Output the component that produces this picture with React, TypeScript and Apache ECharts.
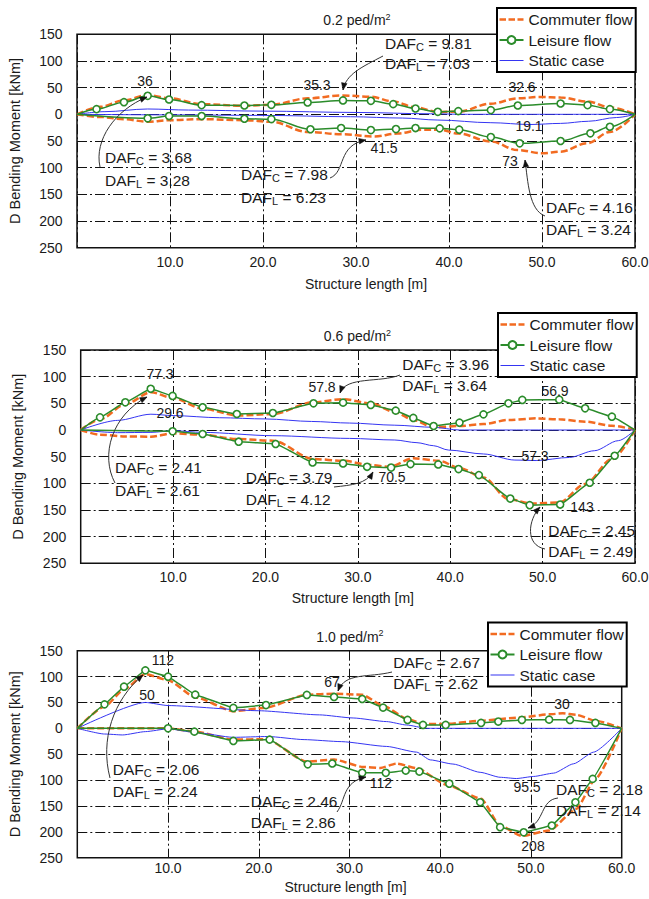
import React, { useEffect, useRef } from "react";
import * as echarts from "echarts";

const FONT = '"Liberation Sans", Arial, Helvetica, sans-serif';
const ORANGE = "#F26B21";
const GREEN = "#2B8C2B";
const BLUE = "#3535F2";
const INK = "#1a1a1a";

const NAMES = ["Commuter flow", "Leisure flow", "Static case"];
const DENSITIES = ["0.2", "0.6", "1.0"];
const X_NAME = "Structure length [m]";
const Y_NAME = "D Bending Moment [kNm]";

// ---------- 0.2 ped/m2 ----------
const p02CommUpX = [0, 2.5, 5, 7.6, 10, 13.4, 18, 20.9, 24.8, 28.5, 31.6, 34, 36.4, 38.8, 41, 44.5, 47.4, 49.8, 52, 54.9, 57.3, 60];
const p02CommUpY = [0, 14, 26, 36, 30, 19, 16, 18, 30, 35.3, 33, 24, 13, 4.5, 5, 20, 30, 32.6, 31.5, 24, 13, 0];
const p02CommLoX = [0, 2.5, 5, 7.6, 10, 13.4, 18, 20.9, 24.8, 28.6, 32, 34.5, 37, 39, 41, 44.5, 47.4, 50, 52, 54.9, 57.3, 60];
const p02CommLoY = [0, -5, -9, -14, -11, -9, -11, -14, -33, -37.5, -41.5, -36, -29, -29, -36, -51, -67, -73, -70, -54, -33, 0];
const p02LeisUpX = [0, 2.1, 5.05, 7.6, 9.9, 13.4, 18.0, 20.9, 24.8, 28.6, 31.6, 34.0, 36.4, 38.8, 41.0, 44.5, 47.4, 52.0, 54.9, 57.3, 60];
const p02LeisUpY = [0, 9.7, 22.8, 34.7, 27.8, 17.2, 16.5, 17.8, 22.2, 26, 25.3, 19.1, 10.9, 4.7, 6, 7.9, 16.5, 20.3, 17.2, 9.7, 0];
const p02LeisLoX = [0, 7.6, 9.9, 13.4, 18.0, 20.9, 25.1, 28.4, 31.6, 34.3, 36.4, 39.0, 41.1, 44.5, 47.6, 52.0, 55.2, 57.3, 60];
const p02LeisLoY = [0, -7.5, -3.2, -3.2, -8.3, -9, -28, -25.7, -29.5, -27.6, -25.7, -26.3, -28.8, -42.6, -54.4, -50, -35.6, -23.3, 0];
const p02StatUpX = [0, 3, 7.6, 12, 20, 30, 38, 42, 60];
const p02StatUpY = [0, 5, 10, 8, 6, 3.5, 1, 0, 0];
const p02StatLoX = [0, 10, 20, 29.4, 35, 38.8, 44.5, 48.7, 52, 55, 58, 60];
const p02StatLoY = [0, -1, -2, -4.5, -7, -10.7, -15.7, -19.1, -17, -13, -6, 0];

// ---------- 0.6 ped/m2 ----------
const p06CommUpX = [0, 2.1, 4.8, 7.6, 10, 13.2, 17, 20.8, 25.2, 28.4, 31.4, 34.1, 36, 38.2, 41, 43.6, 46.3, 49.3, 51.8, 54.6, 57.5, 60];
const p06CommUpY = [0, 20, 48, 70.7, 60, 40, 27, 30, 52, 57.8, 50, 33, 18.8, 5, 7.5, 11, 18.8, 21.8, 20, 15.6, 8, 0];
const p06CommLoX = [0, 2.1, 4.8, 7.6, 10, 13.2, 16.9, 20.8, 25.2, 28.4, 31.4, 33.4, 36, 38.8, 41, 43.6, 46.3, 48.9, 51.8, 54.6, 57.5, 60];
const p06CommLoY = [0, -8.8, -12, -12.5, -6.3, -8.8, -17, -20, -54.5, -57.7, -65.8, -69, -53, -57.7, -71.4, -89, -129.7, -138, -136, -101.5, -54.5, 0];
const p06LeisUpX = [0, 2.09, 4.83, 7.58, 9.95, 13.2, 16.9, 20.8, 25.2, 28.4, 31.4, 34.1, 36.0, 38.2, 41.0, 43.6, 46.3, 47.8, 51.8, 54.6, 57.5, 60];
const p06LeisUpY = [0, 23.7, 51.9, 77.3, 63.9, 42.5, 30, 31.9, 50, 51.3, 47, 36.3, 22.6, 7.5, 13.7, 29.3, 50, 56.4, 56.9, 40.6, 25, 0];
const p06LeisLoX = [0, 9.95, 13.2, 17.1, 21.1, 25.1, 28.4, 31.0, 33.6, 35.7, 38.7, 40.9, 43.1, 46.5, 48.6, 51.9, 55.1, 57.8, 60];
const p06LeisLoY = [0, -2.5, -7.5, -22, -26.3, -60.8, -62.7, -69, -70.5, -64, -64.6, -73.3, -84.6, -128.6, -141, -139.8, -99, -48.3, 0];
const p06StatUpX = [0, 4, 7.6, 10, 15, 20, 25, 29.1, 34, 38.2, 41, 60];
const p06StatUpY = [0, 18, 29.6, 27, 23, 20.7, 16, 13, 9, 5, 0, 0];
const p06StatLoX = [0, 4, 7.6, 10, 13.2, 20.8, 29.1, 34, 36.4, 38.2, 39.8, 43.6, 47, 49.3, 52.9, 55.6, 58.2, 60];
const p06StatLoY = [0, -5, -4.5, -1.3, -4.5, -10.7, -15.8, -18.8, -23.8, -29.5, -37.6, -45, -56.4, -57.3, -51.5, -38.9, -20, 0];

// ---------- 1.0 ped/m2 ----------
const p10CommUpX = [0, 3, 5.15, 7.5, 10, 13, 17.2, 20.8, 25.3, 28.3, 31.4, 33.7, 36.4, 38.1, 40.6, 44.5, 49, 52, 53.5, 55, 57.1, 60];
const p10CommUpY = [0, 42, 75, 105, 93, 60, 33, 40, 65, 67, 65, 43.8, 18, 8.4, 8.4, 14.8, 21.2, 27, 29, 26, 14.8, 0];
const p10CommLoX = [0, 10, 13, 17.2, 20.8, 25.3, 28.3, 31.5, 33.4, 35.2, 37.4, 40.7, 44.5, 46.6, 49, 52, 55, 57.1, 60];
const p10CommLoY = [0, 0, -6.4, -21.8, -21, -64.3, -60.4, -74.6, -76.5, -68, -77, -109, -136, -188, -208, -197.5, -155.6, -97.7, 0];
const p10LeisUpX = [0, 3.0, 5.15, 7.5, 10.0, 13.0, 17.2, 20.8, 25.3, 28.3, 31.4, 33.7, 36.4, 38.1, 40.6, 44.5, 46.4, 49.0, 52.0, 54.3, 57.1, 60];
const p10LeisUpY = [0, 46.3, 80.5, 112, 99.8, 65, 39.4, 45, 64.5, 60.6, 56.7, 40, 16.2, 6.5, 6.5, 10.4, 13, 16.2, 16.8, 16.2, 10.4, 0];
const p10LeisLoX = [0, 10.0, 12.9, 17.2, 21.2, 25.4, 28.1, 31.4, 34.0, 36.2, 37.7, 41.0, 44.4, 46.6, 49.2, 52.3, 54.9, 56.8, 60];
const p10LeisLoY = [0, 0, -6.4, -24.4, -21.8, -69.5, -68, -86, -86, -81.7, -83.6, -107, -142.9, -191, -201, -187.8, -142.9, -97.7, 0];
const p10StatUpX = [0, 7.5, 10, 20, 26.7, 30.4, 34.1, 36.3, 38.5, 60];
const p10StatUpY = [0, 50, 44, 34, 26, 20, 13, 6.4, 0, 0];
const p10StatLoX = [0, 3, 5, 7.5, 10, 13, 17.2, 21, 25, 29.1, 34.1, 37.4, 38.9, 41.4, 44.4, 46.6, 48.4, 50.3, 52.5, 54.7, 56.9, 60];
const p10StatLoY = [0, -11, -12.8, -6.4, -1, -8, -17.4, -15.8, -21.8, -25.7, -35, -46, -61, -69, -85, -94.6, -97, -93, -86.6, -68.5, -46, 0];

// Annotation texts
const PEAK_LABELS = [
  ["36", "35.3", "32.6", "19.1", "41.5", "73"],
  ["77.3", "29.6", "57.8", "56.9", "57.3", "70.5", "143"],
  ["112", "50", "67", "30", "112", "95.5", "208"],
];
const DAF_C = [["3.68", "7.98", "9.81", "4.16"], ["2.41", "3.79", "3.96", "2.45"], ["2.06", "2.46", "2.67", "2.18"]];
const DAF_L = [["3.28", "6.23", "7.03", "3.24"], ["2.61", "4.12", "3.64", "2.49"], ["2.24", "2.86", "2.62", "2.14"]];

const PANELS = [
  { commUp: [p02CommUpX, p02CommUpY], commLo: [p02CommLoX, p02CommLoY], leisUp: [p02LeisUpX, p02LeisUpY], leisLo: [p02LeisLoX, p02LeisLoY], statUp: [p02StatUpX, p02StatUpY], statLo: [p02StatLoX, p02StatLoY] },
  { commUp: [p06CommUpX, p06CommUpY], commLo: [p06CommLoX, p06CommLoY], leisUp: [p06LeisUpX, p06LeisUpY], leisLo: [p06LeisLoX, p06LeisLoY], statUp: [p06StatUpX, p06StatUpY], statLo: [p06StatLoX, p06StatLoY] },
  { commUp: [p10CommUpX, p10CommUpY], commLo: [p10CommLoX, p10CommLoY], leisUp: [p10LeisUpX, p10LeisUpY], leisLo: [p10LeisLoX, p10LeisLoY], statUp: [p10StatUpX, p10StatUpY], statLo: [p10StatLoX, p10StatLoY] },
];

// ---------- layout (pixels) ----------
const LAYOUT = [
  { left: 77, top: 34.3, width: 558, height: 213.4, xMargin: 7, nameGap: 29.5, namePad: [0, 0, 0, 20], titleX: 357, titleY: 20, legendLeft: 497, legendTop: 8, smoothL: 0.35, smoothO: 0.35 },
  { left: 80.7, top: 350, width: 554.3, height: 213.3, xMargin: 6.5, nameGap: 27.5, namePad: [0, 10, 0, 0], titleX: 357.5, titleY: 336, legendLeft: 498, legendTop: 313, smoothL: 0.1, smoothO: 0.3 },
  { left: 77.3, top: 650.7, width: 544.4, height: 207, xMargin: 3, nameGap: 22, namePad: [0, 8, 0, 0], titleX: 350, titleY: 636.7, legendLeft: 488, legendTop: 622.5, smoothL: 0.05, smoothO: 0.2 },
];
const PEAK_POS = [
  [[145, 81], [317, 85], [522, 87], [529, 126], [384, 148], [510, 161]],
  [[160, 374], [170, 413], [322, 387], [555, 391], [535, 456], [392, 477], [582, 507]],
  [[163, 660], [147, 695], [332, 682], [562, 704], [381, 783], [527, 787], [533, 846]],
];
const DAF_POS = [
  [[105, 157, 180], [241, 174, 197], [385, 43.5, 63.5], [546, 207.5, 229.5]],
  [[115, 467, 490], [245.7, 477.5, 499.5], [402.3, 364, 385], [548.3, 530.7, 551.7]],
  [[112.7, 769.5, 791], [250.7, 801.7, 822.7], [393.3, 662.7, 683.3], [556, 789.3, 810.7]],
];
// bezier: start, cp1, cp2, end
const ARROWS = [
  [100, 167, 94, 140, 115, 110, 147, 97],
  [383, 56, 362, 67, 346, 74, 343, 90],
  [330, 178, 346, 172, 337, 145, 366, 140],
  [545, 216, 529, 210, 528, 182, 525, 160],
  [115, 483, 100, 455, 112, 415, 147, 397],
  [400, 375, 380, 383, 346, 376, 340, 393],
  [334, 487, 352, 485, 366, 484, 373, 472],
  [545, 549, 525, 545, 528, 520, 540, 507],
  [110, 778, 100, 740, 113, 700, 143, 675],
  [392, 672, 368, 678, 345, 672, 338, 691],
  [337, 812, 346, 800, 342, 782, 366, 777],
  [558, 798, 540, 800, 545, 822, 528, 828],
];

const ICON_BOX = "M0,0h0.01v0.01h-0.01zM23.99,9.99h0.01v0.01h-0.01z";
const DASH_ICON = "path://" + ICON_BOX + "M0,3.7h6.5v2.6h-6.5zM9,3.7h6.5v2.6h-6.5zM18,3.7h6v2.6h-6z";
const THIN_ICON = "path://" + ICON_BOX + "M0,4.5h24v1h-24z";

function pairs(xy: number[][]) {
  const [xs, ys] = xy;
  return xs.map((x, i) => [x, ys[i]]);
}
function markerPairs(xy: number[][]) {
  const [xs, ys] = xy;
  return xs.map((x, i) => (x === 0 || x === 60 ? { value: [x, ys[i]], symbol: "none" } : [x, ys[i]]));
}
function arrowHead(x2: number, y2: number, cx: number, cy: number) {
  const dx = x2 - cx, dy = y2 - cy;
  const L = Math.hypot(dx, dy) || 1;
  const ux = dx / L, uy = dy / L;
  const len = 7, w = 2.8;
  return [
    [x2, y2],
    [x2 - ux * len - uy * w, y2 - uy * len + ux * w],
    [x2 - ux * len + uy * w, y2 - uy * len - ux * w],
  ];
}

function buildOption() {
  const series: any[] = [];
  PANELS.forEach((p, i) => {
    const l = LAYOUT[i];
    const common = { type: "line", xAxisIndex: i, yAxisIndex: i, silent: true, smoothMonotone: "x" };
    const comm = { ...common, name: NAMES[0], symbol: "none", smooth: l.smoothO, z: 2, lineStyle: { color: ORANGE, width: 2.5, type: [7, 3] }, itemStyle: { color: ORANGE } };
    const stat = { ...common, name: NAMES[2], symbol: "none", smooth: l.smoothO, z: 3, lineStyle: { color: BLUE, width: 1 }, itemStyle: { color: BLUE } };
    const leis = { ...common, name: NAMES[1], symbol: "circle", symbolSize: 7, showSymbol: true, smooth: l.smoothL, z: 4, lineStyle: { color: GREEN, width: 1.5 }, itemStyle: { color: "#ffffff", borderColor: GREEN, borderWidth: 1.6 } };
    series.push({ ...comm, data: pairs(p.commUp) });
    series.push({ ...comm, data: pairs(p.commLo) });
    series.push({ ...stat, data: pairs(p.statUp) });
    series.push({ ...stat, data: pairs(p.statLo) });
    series.push({ ...leis, data: markerPairs(p.leisUp) });
    series.push({ ...leis, data: markerPairs(p.leisLo) });
  });

  const graphic: any[] = [];
  const richMain = { fontSize: 15.5, lineHeight: 18, fontFamily: FONT, fill: INK, color: INK };
  const richSub = { fontSize: 11, lineHeight: 8, fontFamily: FONT, fill: INK, color: INK, verticalAlign: "bottom" };
  LAYOUT.forEach((l, i) => {
    graphic.push({
      type: "text", silent: true, z: 20,
      style: {
        text: `{a|${DENSITIES[i]} ped/m}{b|2}`, x: l.titleX, y: l.titleY,
        align: "center", textAlign: "center", verticalAlign: "middle", textVerticalAlign: "middle",
        rich: { a: { fontSize: 14, lineHeight: 16, fontFamily: FONT, fill: INK, color: INK }, b: { fontSize: 9, lineHeight: 9, fontFamily: FONT, fill: INK, color: INK, verticalAlign: "top" } },
      },
    });
    PEAK_LABELS[i].forEach((t, k) => {
      const [x, y] = PEAK_POS[i][k];
      graphic.push({ type: "text", silent: true, z: 20, style: { text: t, x, y, fontSize: 14, fontFamily: FONT, fill: INK, align: "center", textAlign: "center", verticalAlign: "middle", textVerticalAlign: "middle" } });
    });
    DAF_C[i].forEach((c, k) => {
      const [x, yc, yl] = DAF_POS[i][k];
      graphic.push({ type: "text", silent: true, z: 20, style: { text: `{m|DAF}{s|C}{m| = ${c}}`, rich: { m: richMain, s: richSub }, x, y: yc, align: "left", textAlign: "left", verticalAlign: "middle", textVerticalAlign: "middle" } });
      graphic.push({ type: "text", silent: true, z: 20, style: { text: `{m|DAF}{s|L}{m| = ${DAF_L[i][k]}}`, rich: { m: richMain, s: richSub }, x, y: yl, align: "left", textAlign: "left", verticalAlign: "middle", textVerticalAlign: "middle" } });
    });
  });
  ARROWS.forEach((a) => {
    const [x1, y1, c1x, c1y, c2x, c2y, x2, y2] = a;
    graphic.push({ type: "bezierCurve", silent: true, z: 19, shape: { x1, y1, cpx1: c1x, cpy1: c1y, cpx2: c2x, cpy2: c2y, x2, y2 }, style: { stroke: "#333", lineWidth: 1, fill: "none" } });
    graphic.push({ type: "polygon", silent: true, z: 19, shape: { points: arrowHead(x2, y2, c2x, c2y) }, style: { fill: "#111", stroke: "#111", lineWidth: 0.5 } });
  });

  const splitStyle = { color: "#111", width: 1, type: [10, 3, 2, 3] };

  return {
    animation: false,
    backgroundColor: "#ffffff",
    textStyle: { fontFamily: FONT },
    grid: LAYOUT.map((l) => ({ left: l.left, top: l.top, width: l.width, height: l.height, show: true, borderColor: "#111", borderWidth: 1.5, backgroundColor: "transparent", containLabel: false, outerBoundsMode: "none" })),
    xAxis: LAYOUT.map((l, i) => ({
      type: "value", gridIndex: i, min: 0, max: 60, interval: 10,
      name: X_NAME, nameLocation: "middle", nameGap: l.nameGap, nameMoveOverlap: false,
      nameTextStyle: { fontSize: 14, color: INK, fontFamily: FONT, padding: l.namePad },
      axisLine: { show: false }, axisTick: { show: false },
      axisLabel: { fontSize: 14, color: INK, fontFamily: FONT, margin: l.xMargin, showMinLabel: true, showMaxLabel: true, formatter: (v: number) => (v === 0 ? "" : v.toFixed(1)) },
      splitLine: { show: true, lineStyle: splitStyle },
    })),
    yAxis: LAYOUT.map((l, i) => ({
      type: "value", gridIndex: i, min: -250, max: 150, interval: 50,
      name: Y_NAME, nameLocation: "middle", nameGap: 55, nameRotate: 90, nameMoveOverlap: false,
      nameTextStyle: { fontSize: 14.5, color: INK, fontFamily: FONT },
      axisLine: { show: false }, axisTick: { show: false },
      axisLabel: { fontSize: 14, color: INK, fontFamily: FONT, margin: 14.5, showMinLabel: true, showMaxLabel: true, formatter: (v: number) => String(Math.abs(v)) },
      splitLine: { show: true, lineStyle: splitStyle },
    })),
    legend: LAYOUT.map((l) => ({
      left: l.legendLeft, top: l.legendTop, orient: "vertical", selectedMode: false,
      data: [{ name: NAMES[0], icon: DASH_ICON }, { name: NAMES[1] }, { name: NAMES[2], icon: THIN_ICON }],
      itemWidth: 24, itemHeight: 10, itemGap: 2.5, padding: [2.5, 3, 2.5, 1.5],
      borderColor: "#000", borderWidth: 2, backgroundColor: "#ffffff", z: 15,
      textStyle: { fontSize: 15.5, color: INK, fontFamily: FONT, lineHeight: 18 },
    })),
    series,
    graphic,
  };
}

export default function App() {
  const ref = useRef<HTMLDivElement>(null);
  useEffect(() => {
    const chart = echarts.init(ref.current as HTMLDivElement, null, { renderer: "svg" });
    chart.setOption(buildOption() as any);
    return () => chart.dispose();
  }, []);
  return <div ref={ref} style={{ position: "absolute", left: 0, top: 0, width: 649, height: 899, background: "#fff" }} />;
}
